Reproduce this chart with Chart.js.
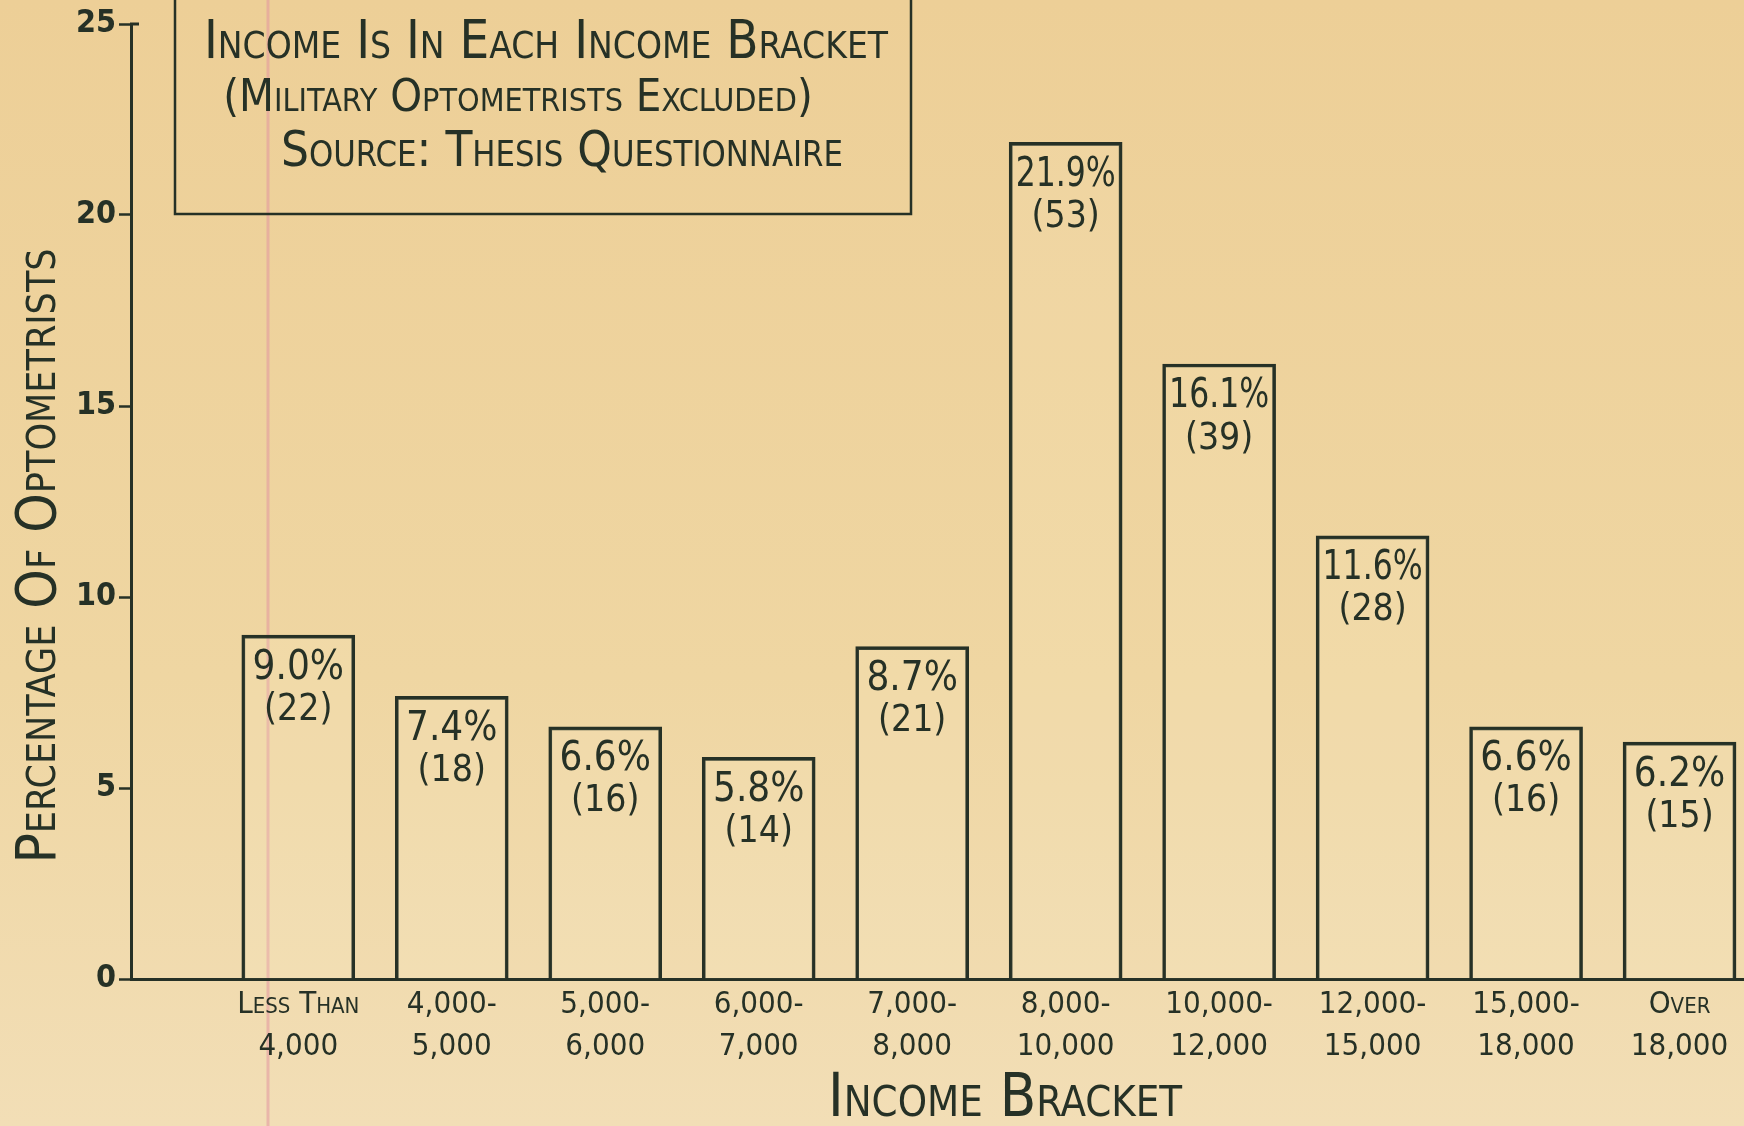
<!DOCTYPE html>
<html>
<head>
<meta charset="utf-8">
<script src="https://cdn.jsdelivr.net/npm/chart.js@4.4.1/dist/chart.umd.min.js"></script>
<style>
  html, body { margin: 0; padding: 0; overflow: hidden; background: #efd7a4; }
  #wrap { position: relative; width: 1744px; height: 1126px; }
</style>
</head>
<body>
<div id="wrap"><canvas id="myChart" width="1744" height="1126"></canvas></div>
<script>
// income brackets (two lines each, as written under the bars)
const brackets = [
    ['Less Than', '4,000'],
    ['4,000-', '5,000'],
    ['5,000-', '6,000'],
    ['6,000-', '7,000'],
    ['7,000-', '8,000'],
    ['8,000-', '10,000'],
    ['10,000-', '12,000'],
    ['12,000-', '15,000'],
    ['15,000-', '18,000'],
    ['Over', '18,000']
];
// percentage of optometrists in each bracket
const percents = [9.0, 7.4, 6.6, 5.8, 8.7, 21.9, 16.1, 11.6, 6.6, 6.2];
// number of optometrists in each bracket
const counts = [22, 18, 16, 14, 21, 53, 39, 28, 16, 15];
const yTicks = [0, 5, 10, 15, 20, 25];

const titleLines = [
    'Income Is In Each Income Bracket',
    '(Military Optometrists Excluded)',
    'Source: Thesis Questionnaire'
];
const xTitle = 'Income Bracket';
const yTitle = 'Percentage Of Optometrists';

const INK = '#263126';
const FAMILY = '"DejaVu Sans Condensed", "DejaVu Sans", sans-serif';

// paper, margin line, title box, axis titles, bar labels
const paperPlugin = {
    id: 'paper',
    beforeDraw(chart) {
        const { ctx, width, height } = chart;
        ctx.save();
        const g = ctx.createLinearGradient(0, 0, 0, height);
        g.addColorStop(0, '#edcf97');
        g.addColorStop(0.6, '#efd6a2');
        g.addColorStop(1, '#f2deb6');
        ctx.fillStyle = g;
        ctx.fillRect(0, 0, width, height);
        // pink margin line of the paper
        ctx.strokeStyle = 'rgba(226, 150, 160, 0.55)';
        ctx.lineWidth = 3;
        ctx.beginPath();
        ctx.moveTo(268, 0);
        ctx.lineTo(268, height);
        ctx.stroke();
        ctx.restore();
    },
    afterDatasetsDraw(chart) {
        const { ctx } = chart;
        const meta = chart.getDatasetMeta(0);
        ctx.save();
        ctx.fillStyle = INK;
        ctx.textAlign = 'center';
        ctx.textBaseline = 'middle';
        meta.data.forEach((bar, i) => {
            ctx.font = '40px ' + FAMILY;
            ctx.fillText(percents[i].toFixed(1) + '%', bar.x, bar.y + 33, 100);
            ctx.font = '37px ' + FAMILY;
            ctx.fillText('(' + counts[i] + ')', bar.x, bar.y + 75);
        });
        ctx.restore();
    },
    afterDraw(chart) {
        const { ctx, chartArea } = chart;
        ctx.save();
        // little hook at the top of the y axis
        ctx.strokeStyle = INK;
        ctx.lineWidth = 3;
        ctx.beginPath();
        ctx.moveTo(chartArea.left - 1, chartArea.top);
        ctx.lineTo(chartArea.left + 8, chartArea.top);
        ctx.stroke();
        // title box, running off the top of the sheet
        ctx.lineWidth = 2.5;
        ctx.strokeRect(175, -20, 736, 234);
        ctx.fillStyle = INK;
        ctx.textAlign = 'center';
        ctx.textBaseline = 'middle';
        ctx.font = 'small-caps 54px ' + FAMILY;
        ctx.fillText(titleLines[0], 546, 44, 684);
        ctx.font = 'small-caps 45px ' + FAMILY;
        ctx.fillText(titleLines[1], 518, 99, 628);
        ctx.font = 'small-caps 50px ' + FAMILY;
        ctx.fillText(titleLines[2], 562, 153, 562);
        // axis titles
        ctx.font = 'small-caps 60px ' + FAMILY;
        ctx.fillText(xTitle, 1005, 1100, 354);
        ctx.translate(40, 556);
        ctx.rotate(-Math.PI / 2);
        ctx.font = 'small-caps 56px ' + FAMILY;
        ctx.fillText(yTitle, 0, 0, 636);
        ctx.restore();
    }
};

const ctx = document.getElementById('myChart').getContext('2d');
const myChart = new Chart(ctx, {
    type: 'bar',
    data: {
        datasets: [{
            data: percents.map((v, i) => ({ x: i, y: v })),
            backgroundColor: 'rgba(255, 244, 215, 0.12)',
            borderColor: INK,
            borderWidth: 3,
            barThickness: 113
        }]
    },
    options: {
        responsive: false,
        animation: false,
        layout: { padding: { top: 24, right: 0, left: 0, bottom: 0 } },
        plugins: {
            legend: { display: false },
            tooltip: { enabled: false }
        },
        scales: {
            x: {
                type: 'linear',
                offset: false,
                min: -1.09,
                max: 9.42,
                afterBuildTicks: (scale) => {
                    scale.ticks = brackets.map((_, i) => ({ value: i }));
                },
                afterFit: (scale) => { scale.height = 147; },
                ticks: {
                    autoSkip: false,
                    maxRotation: 0,
                    padding: 5,
                    color: INK,
                    font: { family: FAMILY, size: 31, weight: 'small-caps normal', lineHeight: 1.35 },
                    callback: (v) => brackets[v]
                },
                grid: { drawOnChartArea: false, drawTicks: false },
                border: { color: INK, width: 3 }
            },
            y: {
                min: 0,
                max: 25,
                afterBuildTicks: (scale) => {
                    scale.ticks = yTicks.map(v => ({ value: v }));
                },
                afterFit: (scale) => { scale.width = 131; },
                ticks: {
                    padding: 3,
                    color: INK,
                    font: { family: FAMILY, size: 32, weight: 'bold' }
                },
                grid: {
                    drawOnChartArea: false,
                    tickLength: 12,
                    tickWidth: 2.5,
                    tickColor: INK
                },
                border: { color: INK, width: 3 }
            }
        }
    },
    plugins: [paperPlugin]
});
</script>
</body>
</html>
